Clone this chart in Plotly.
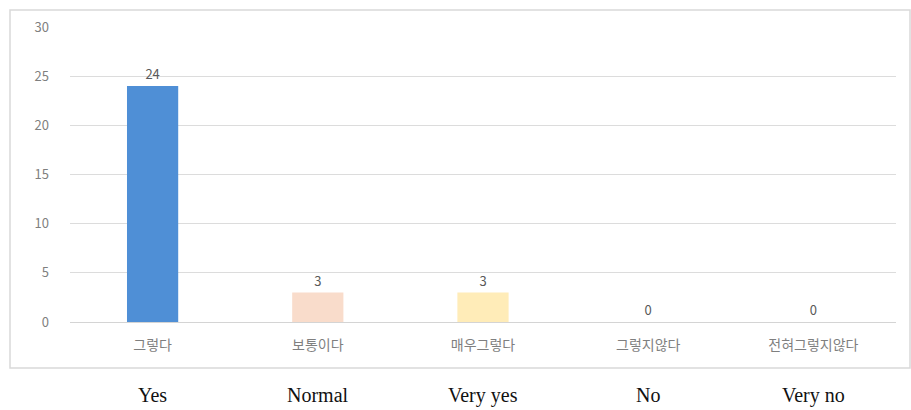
import plotly.graph_objects as go

# Survey responses (Korean category labels, English glosses, counts)
categories_ko = ["그렇다", "보통이다", "매우그렇다", "그렇지않다", "전혀그렇지않다"]
categories_en = ["Yes", "Normal", "Very yes", "No", "Very no"]
counts = [24, 3, 3, 0, 0]
bar_colors = ["#4f8fd6", "#f9dccb", "#ffecb8", "#a5a5a5", "#f5c78f"]
y_ticks = [0, 5, 10, 15, 20, 25, 30]

W, H = 911, 410
ML, MR, MT, MB = 70, 15, 27, 88
plot_w = W - ML - MR
plot_h = H - MT - MB

fig = go.Figure(
    go.Bar(
        x=categories_ko,
        y=counts,
        marker=dict(color=bar_colors, line=dict(width=0)),
        text=[str(v) for v in counts],
        textposition="outside",
        textfont=dict(family="Noto Sans CJK KR", size=13, color="#595959"),
        cliponaxis=False,
        width=0.31,
    )
)

# English glosses under each category, outside the chart frame
for ko, en in zip(categories_ko, categories_en):
    fig.add_annotation(
        x=ko, xref="x", y=0, yref="paper",
        yshift=-(395 - (H - MB)), yanchor="middle",
        text=en, showarrow=False,
        font=dict(family="Liberation Serif", size=20, color="#111111"),
    )

# Light grey frame around the chart area (pixel edges converted to paper units)
fx0, fx1, fy_top, fy_bot = 10, 910, 10, 368
fig.add_shape(
    type="rect", xref="paper", yref="paper",
    x0=(fx0 - ML) / plot_w, x1=(fx1 - ML) / plot_w,
    y0=(H - MB - fy_bot) / plot_h, y1=(H - MB - fy_top) / plot_h,
    line=dict(color="#d9d9d9", width=1.5), fillcolor="rgba(0,0,0,0)",
    layer="below",
)

fig.update_layout(
    width=W, height=H,
    margin=dict(l=ML, r=MR, t=MT, b=MB),
    paper_bgcolor="white", plot_bgcolor="white",
    showlegend=False,
    xaxis=dict(
        showgrid=False, showline=False, ticks="",
        tickfont=dict(family="Noto Sans CJK KR", size=14, color="#7f7f7f"),
        ticklabelstandoff=13,
    ),
    yaxis=dict(
        range=[0, 30], tickvals=y_ticks,
        showgrid=True, gridcolor="#dcdcdc", gridwidth=1,
        zeroline=True, zerolinecolor="#d4d4d4", zerolinewidth=1,
        showline=False, ticks="",
        tickfont=dict(family="Noto Sans CJK KR", size=13, color="#7f7f7f"),
        ticklabelstandoff=20,
    ),
)

fig.write_html("out.html")
